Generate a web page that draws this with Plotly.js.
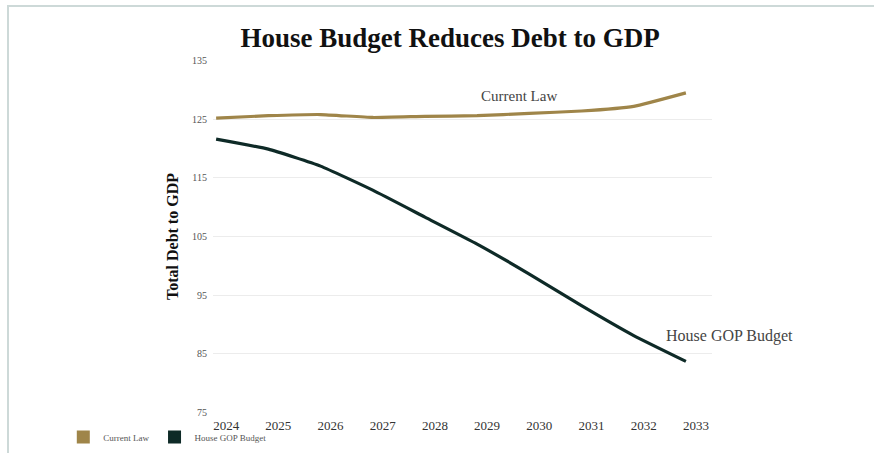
<!DOCTYPE html>
<html>
<head>
<meta charset="utf-8">
<script src="https://cdn.plot.ly/plotly-3.0.1.min.js"></script>
<style>
html,body{margin:0;padding:0;background:#fff;}
#chart{width:874px;height:453px;position:absolute;left:0;top:0;}
#frame{position:absolute;left:7px;top:5px;width:867px;height:448px;border-top:2px solid #cdd9d8;border-left:2px solid #cdd9d8;pointer-events:none;}
</style>
</head>
<body>
<div id="chart"></div>
<div id="frame"></div>
<script>
const years = [2024, 2025, 2026, 2027, 2028, 2029, 2030, 2031, 2032, 2033];
const currentLaw = [125.2, 125.6, 125.8, 125.3, 125.5, 125.6, 126.0, 126.4, 127.2, 129.5];
const houseGOP = [121.6, 119.9, 117.0, 112.9, 108.3, 103.7, 98.6, 93.2, 88.1, 83.7];
const yTicks = [75, 85, 95, 105, 115, 125, 135];
const seriesNames = ['Current Law', 'House GOP Budget'];
const colors = ['#9f8549', '#0e2a27'];

const serif = 'Liberation Serif, DejaVu Serif, serif';

const traces = [
  {x: years, y: currentLaw, mode: 'lines', line: {color: colors[0], width: 3.2, shape: 'spline', smoothing: 0.4}, showlegend: false, hoverinfo: 'skip'},
  {x: years, y: houseGOP, mode: 'lines', line: {color: colors[1], width: 3.2, shape: 'spline', smoothing: 0.4}, showlegend: false, hoverinfo: 'skip'},
  {x: [null], y: [null], mode: 'markers', name: seriesNames[0], marker: {symbol: 'square', size: 13, color: colors[0]}},
  {x: [null], y: [null], mode: 'markers', name: seriesNames[1], marker: {symbol: 'square', size: 13, color: colors[1]}}
];

const layout = {
  width: 874, height: 453,
  margin: {l: 213, r: 162, t: 60, b: 40, autoexpand: false},
  paper_bgcolor: '#ffffff', plot_bgcolor: '#ffffff',
  font: {family: serif, color: '#444'},
  title: {text: '<b>House Budget Reduces Debt to GDP</b>', font: {family: serif, size: 27, color: '#111'}, x: 0.515, xanchor: 'center', y: 0.918, yanchor: 'middle'},
  xaxis: {
    range: [2023.94, 2033.5],
    tickvals: years, ticktext: years.map(String),
    showgrid: false, zeroline: false, showline: false, ticks: '',
    tickfont: {family: serif, size: 13, color: '#333'},
    ticklabelshift: 10, ticklabelstandoff: 3
  },
  yaxis: {
    range: [74.9, 135.1],
    tickvals: yTicks, ticktext: yTicks.map(String),
    showgrid: true, gridcolor: '#ececec', gridwidth: 1,
    zeroline: false, showline: false, ticks: '',
    tickfont: {family: serif, size: 10, color: '#555'},
    ticklabelstandoff: 5,
    title: {text: '<b>Total Debt to GDP</b>', font: {family: serif, size: 16, color: '#111'}, standoff: 9}
  },
  showlegend: true,
  legend: {orientation: 'h', x: -0.30, xanchor: 'left', y: -0.068, yanchor: 'middle', font: {family: serif, size: 9, color: '#555'}, itemwidth: 30, tracegroupgap: 0, bgcolor: 'rgba(0,0,0,0)'},
  annotations: [
    {x: years[6], y: currentLaw[6], text: seriesNames[0], showarrow: false, xshift: -10, yshift: 17, font: {family: serif, size: 15, color: '#444'}},
    {x: years[9], y: houseGOP[9], text: seriesNames[1], showarrow: false, xanchor: 'left', xshift: -22, yshift: 25, font: {family: serif, size: 16, color: '#444'}}
  ]
};

Plotly.newPlot('chart', traces, layout, {displayModeBar: false, staticPlot: true});
</script>
</body>
</html>
